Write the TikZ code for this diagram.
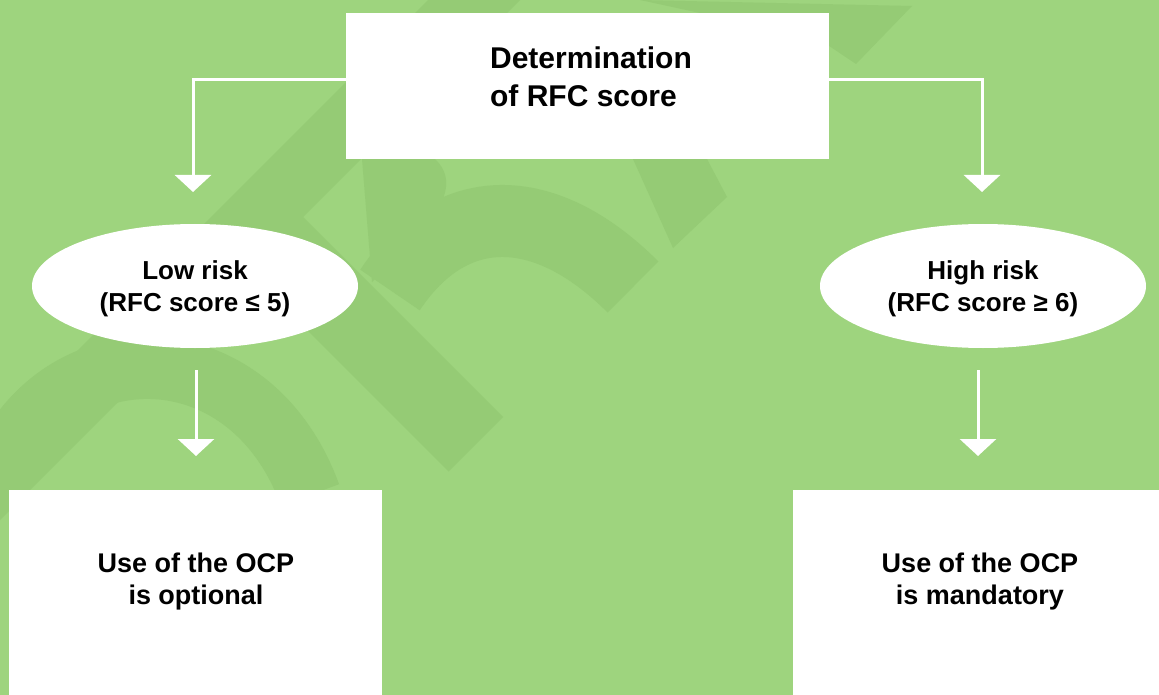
\documentclass[tikz,border=0pt]{standalone}
\usepackage{fontspec}
\setmainfont{Liberation Sans}
\usetikzlibrary{arrows.meta,shapes.geometric}
\definecolor{bg}{RGB}{158,212,126}
\definecolor{wm}{RGB}{149,203,117}
\begin{document}
\begin{tikzpicture}[x=1pt,y=-1pt,
  box/.style={rectangle, fill=white, draw=none, inner sep=0pt},
  oval/.style={ellipse, fill=white, draw=none, minimum width=326pt, minimum height=124pt, inner sep=0pt, align=center, text depth=0pt, font=\fontsize{26}{32}\selectfont\bfseries},
  txt/.style={align=center, font=\fontsize{27}{32}\selectfont\bfseries},
  conn/.style={draw=white, line width=3pt, -{Triangle[width=36pt,length=17pt,fill=white]}},
  wmark/.style={fill=wm, draw=none}]
\useasboundingbox (0,0) rectangle (1159,695);
\clip (0,0) rectangle (1159,695);
\fill[bg] (0,0) rectangle (1159,695);
% watermark
\fill[wmark] (428,0) -- (520,0) -- (0,520) -- (0,428) -- cycle;
\fill[wmark] (299.5,213.5) -- (503,417) -- (448.5,471.5) -- (245,268) -- cycle;
\draw[wm, line width=62pt] (0,470) .. controls (60,330) and (250,330) .. (310,495);
\draw[wm, line width=72pt] (390,290) .. controls (450,200) and (543,197) .. (633,287);
\fill[wmark] (362,159) -- (435,159) .. controls (462,185) and (440,220) .. (372,282) -- cycle;
\fill[wmark] (640,0) -- (912,6) -- (856,64) -- (780,13) -- (700,13) -- cycle;
\fill[wmark] (633,159) -- (707,159) -- (727,197) -- (673,248) -- cycle;
% nodes
\node[box, minimum width=483pt, minimum height=146pt] (top) at (587.5,86) {};
\node[font=\fontsize{30}{38}\selectfont\bfseries, align=left] (toptext) at (591,77) {Determination\\of RFC score};
\node[oval] (low) at (195,286) {Low risk\\(RFC score ≤ 5)};
\node[oval] (high) at (983,286) {High risk\\(RFC score ≥ 6)};
\node[box, minimum width=373pt, minimum height=230pt] (optbox) at (195.5,605) {};
\node[box, minimum width=380pt, minimum height=230pt] (mandbox) at (983,605) {};
\node[txt] (opt) at (196,582) {Use of the OCP\\is optional};
\node[txt] (mand) at (980,582) {Use of the OCP\\is mandatory};
% connectors
\coordinate (tipL) at (193,192);
\coordinate (tipR) at (982,192);
\coordinate (sL) at (196,370);
\coordinate (tL) at (196,456);
\coordinate (sR) at (978,370);
\coordinate (tR) at (978,456);
\draw[conn] ([yshift=6pt]top.west) -| (tipL);
\draw[conn] ([yshift=6pt]top.east) -| (tipR);
\draw[conn] (sL) -- (tL);
\draw[conn] (sR) -- (tR);
\end{tikzpicture}
\end{document}
